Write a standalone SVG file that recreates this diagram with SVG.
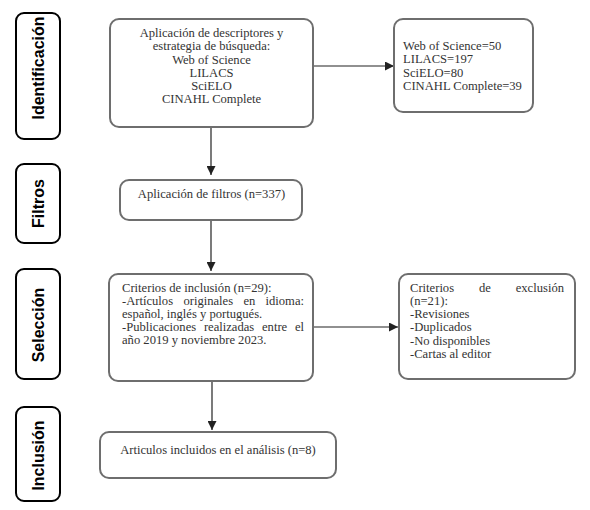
<svg xmlns="http://www.w3.org/2000/svg" width="590" height="510" viewBox="0 0 590 510">
<defs>
<style>
.stage rect{fill:#fff;stroke:#000;stroke-width:2}
.stage text{font-family:"Liberation Sans",Arial,sans-serif;font-weight:bold;font-size:16px;fill:#000;text-anchor:middle}
.box rect{fill:#fff;stroke:#6e6e6e;stroke-width:2}
.box text{font-family:"Liberation Serif","Times New Roman",serif;font-size:12.6px;fill:#333}
.c{text-anchor:middle}
.e{text-anchor:end}
.conn line{stroke:#222;stroke-width:1.2;fill:none}
</style>
<marker id="ah" viewBox="0 0 10 10" refX="10" refY="5" markerWidth="9" markerHeight="9" markerUnits="userSpaceOnUse" orient="auto">
<path d="M0,0 L10,5 L0,10 z" fill="#222"/>
</marker>
</defs>
<rect width="590" height="510" fill="#fff"/>

<g id="stage-identificacion" class="stage">
<rect x="16" y="13" width="44" height="126" rx="8"/>
<text transform="translate(44,68) rotate(-90)">Identificación</text>
</g>
<g id="stage-filtros" class="stage">
<rect x="16" y="164" width="44" height="79" rx="8"/>
<text transform="translate(44,203.5) rotate(-90)">Filtros</text>
</g>
<g id="stage-seleccion" class="stage">
<rect x="16" y="269" width="44" height="110" rx="8"/>
<text transform="translate(44,325) rotate(-90)">Selección</text>
</g>
<g id="stage-inclusion" class="stage">
<rect x="16" y="407" width="44" height="94" rx="8"/>
<text transform="translate(44,455.5) rotate(-90)">Inclusión</text>
</g>

<g id="connectors" class="conn">
<line x1="211" y1="127" x2="211" y2="175" marker-end="url(#ah)"/>
<line x1="313" y1="66" x2="394" y2="66" marker-end="url(#ah)"/>
<line x1="211" y1="220" x2="211" y2="271" marker-end="url(#ah)"/>
<line x1="313" y1="327" x2="398" y2="327" marker-end="url(#ah)"/>
<line x1="212" y1="381" x2="212" y2="430" marker-end="url(#ah)"/>
</g>

<g id="node-busqueda" class="box">
<rect x="110" y="19" width="203" height="108" rx="9"/>
<text class="c" x="211.5" y="37">Aplicación de descriptores y</text>
<text class="c" x="211.5" y="50">estrategia de búsqueda:</text>
<text class="c" x="211.5" y="63.5">Web of Science</text>
<text class="c" x="211.5" y="76.5">LILACS</text>
<text class="c" x="211.5" y="89.5">SciELO</text>
<text class="c" x="211.5" y="103">CINAHL Complete</text>
</g>

<g id="node-resultados" class="box">
<rect x="394" y="19" width="139" height="93" rx="9"/>
<text x="403" y="49.5">Web of Science=50</text>
<text x="403" y="63">LILACS=197</text>
<text x="403" y="76.5">SciELO=80</text>
<text x="403" y="90">CINAHL Complete=39</text>
</g>

<g id="node-filtros" class="box">
<rect x="120" y="180" width="182" height="40" rx="9"/>
<text class="c" x="211.5" y="198">Aplicación de filtros (n=337)</text>
</g>

<g id="node-inclusion-criterios" class="box">
<rect x="109" y="274" width="204" height="107" rx="9"/>
<text x="122" y="291.5">Criterios de inclusión (n=29):</text>
<text x="122" y="304.5">-Artículos</text>
<text x="183.4" y="304.5">originales</text>
<text x="243.4" y="304.5">en</text>
<text class="e" x="304" y="304.5">idioma:</text>
<text x="122" y="317.5">español, inglés y portugués.</text>
<text x="122" y="330.5">-Publicaciones</text>
<text x="203.9" y="330.5">realizadas</text>
<text x="262" y="330.5">entre</text>
<text class="e" x="304" y="330.5">el</text>
<text x="122" y="343.5">año 2019 y noviembre 2023.</text>
</g>

<g id="node-exclusion" class="box">
<rect x="399" y="274" width="176" height="105" rx="9"/>
<text x="410" y="291.5">Criterios</text>
<text x="479" y="291.5">de</text>
<text class="e" x="564" y="291.5">exclusión</text>
<text x="410" y="304.8">(n=21):</text>
<text x="410" y="318">-Revisiones</text>
<text x="410" y="331">-Duplicados</text>
<text x="410" y="344.5">-No disponibles</text>
<text x="410" y="357.7">-Cartas al editor</text>
</g>

<g id="node-incluidos" class="box">
<rect x="100" y="432" width="236" height="46" rx="9"/>
<text class="c" x="218" y="453.5">Articulos incluidos en el análisis (n=8)</text>
</g>
</svg>
